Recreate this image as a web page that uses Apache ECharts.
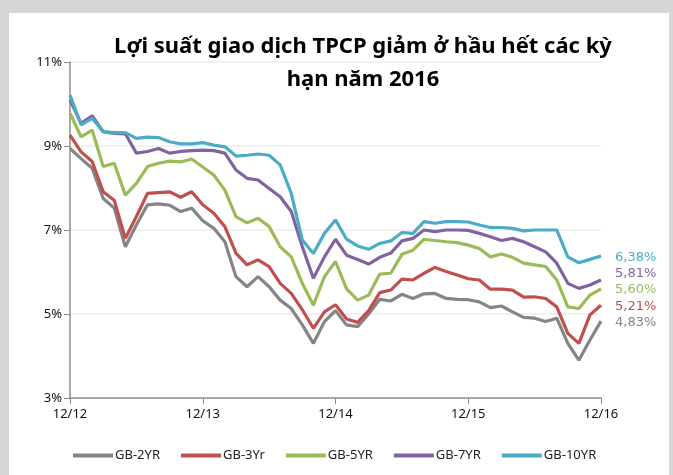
<!DOCTYPE html>
<html>
<head>
<meta charset="utf-8">
<script src="https://cdn.jsdelivr.net/npm/echarts@6/dist/echarts.min.js"></script>
<style>
  html, body { margin: 0; padding: 0; background: #d6d6d6; }
  #panel { position: absolute; left: 9px; top: 13px; width: 660px; height: 462px; background: #fff; }
  #chart { position: absolute; left: 0; top: 0; width: 673px; height: 475px; }
</style>
</head>
<body>
<div id="panel"></div>
<div id="chart"></div>
<script>
// thang 12/2012 .. 12/2016, moi thang mot diem
const months = [];
for (let y = 12; y <= 16; y++) {
  for (let m = (y === 12 ? 12 : 1); m <= 12; m++) {
    months.push(m + '/' + y);
  }
}
const yearLabels = { '12/12': '12/12', '12/13': '12/13', '12/14': '12/14', '12/15': '12/15', '12/16': '12/16' };

const gb2 = [8.94, 8.70, 8.47, 7.75, 7.52, 6.60, 7.12, 7.60, 7.62, 7.59, 7.44, 7.52, 7.22,
  7.04, 6.72, 5.89, 5.65, 5.89, 5.65, 5.33, 5.13, 4.74, 4.30, 4.82, 5.08,
  4.74, 4.70, 5.00, 5.35, 5.31, 5.47, 5.37, 5.48, 5.49, 5.37, 5.35, 5.34,
  5.29, 5.15, 5.19, 5.05, 4.92, 4.90, 4.82, 4.90, 4.30, 3.90, 4.38, 4.83];
const gb3 = [9.26, 8.86, 8.63, 7.91, 7.71, 6.80, 7.32, 7.87, 7.89, 7.91, 7.78, 7.91, 7.60,
  7.40, 7.08, 6.45, 6.17, 6.29, 6.13, 5.73, 5.49, 5.10, 4.66, 5.05, 5.22,
  4.88, 4.80, 5.08, 5.51, 5.57, 5.83, 5.81, 5.97, 6.11, 6.01, 5.93, 5.84,
  5.81, 5.59, 5.59, 5.57, 5.40, 5.41, 5.37, 5.17, 4.54, 4.30, 4.98, 5.21];
const gb5 = [9.78, 9.22, 9.38, 8.51, 8.59, 7.83, 8.11, 8.51, 8.59, 8.64, 8.62, 8.69, 8.50,
  8.31, 7.95, 7.32, 7.17, 7.28, 7.08, 6.60, 6.36, 5.73, 5.21, 5.89, 6.25,
  5.60, 5.33, 5.45, 5.95, 5.97, 6.42, 6.52, 6.78, 6.75, 6.72, 6.70, 6.64,
  6.56, 6.36, 6.43, 6.35, 6.21, 6.17, 6.13, 5.81, 5.17, 5.13, 5.45, 5.60];
const gb7 = [10.10, 9.54, 9.72, 9.34, 9.30, 9.29, 8.83, 8.87, 8.94, 8.83, 8.87, 8.89, 8.90,
  8.89, 8.83, 8.43, 8.23, 8.19, 7.99, 7.79, 7.44, 6.60, 5.85, 6.36, 6.78,
  6.40, 6.30, 6.19, 6.35, 6.45, 6.74, 6.80, 7.00, 6.96, 7.00, 7.00, 6.99,
  6.92, 6.84, 6.75, 6.80, 6.72, 6.60, 6.48, 6.21, 5.73, 5.61, 5.69, 5.81];
const gb10 = [10.21, 9.50, 9.66, 9.34, 9.32, 9.32, 9.18, 9.21, 9.20, 9.10, 9.05, 9.05, 9.08,
  9.02, 8.98, 8.76, 8.78, 8.81, 8.78, 8.55, 7.87, 6.76, 6.44, 6.92, 7.24,
  6.78, 6.62, 6.54, 6.68, 6.74, 6.94, 6.92, 7.20, 7.16, 7.20, 7.20, 7.19,
  7.12, 7.06, 7.06, 7.04, 6.98, 7.00, 7.00, 7.00, 6.36, 6.22, 6.30, 6.38];
const lastLabels = ['4,83%', '5,21%', '5,60%', '5,81%', '6,38%'];

const names = ['GB-2YR', 'GB-3Yr', 'GB-5YR', 'GB-7YR', 'GB-10YR'];
const colors = ['#858585', '#c0504d', '#9bbb59', '#8064a2', '#4bacc6'];
const allData = [gb2, gb3, gb5, gb7, gb10];
const labelOffsets = [[6, 1], [6, 1], [6, 1], [6, -6], [6, 2]];

const chart = echarts.init(document.getElementById('chart'));

const series = allData.map((d, i) => ({
  name: names[i],
  type: 'line',
  data: d,
  symbol: 'none',
  lineStyle: { width: 3.2, color: colors[i] },
  itemStyle: { color: colors[i] },
  endLabel: {
    show: true,
    formatter: () => lastLabels[i],
    color: colors[i],
    fontSize: 13,
    fontFamily: 'DejaVu Sans',
    offset: labelOffsets[i],
  },
}));

chart.setOption({
  animation: false,
  title: {
    text: 'Lợi suất giao dịch TPCP giảm ở hầu hết các kỳ\nhạn năm 2016',
    left: 358,
    textAlign: 'center',
    top: 25,
    textStyle: {
      fontFamily: 'Noto Sans',
      fontWeight: 'bold',
      fontSize: 22,
      lineHeight: 33,
      color: '#000',
    },
  },
  grid: { left: 70, right: 72, top: 62, bottom: 77 },
  legend: {
    bottom: 8,
    left: 68,
    icon: 'rect',
    itemWidth: 40,
    itemHeight: 4,
    itemGap: 21,
    textStyle: { fontFamily: 'Noto Sans', fontSize: 13, color: '#222', padding: [0, 0, 0, -3] },
    data: names,
  },
  xAxis: {
    type: 'category',
    data: months,
    boundaryGap: false,
    axisLine: { lineStyle: { color: '#8c8c8c', width: 1.5 } },
    axisTick: { show: true, interval: 11, length: 6, lineStyle: { color: '#8c8c8c' } },
    axisLabel: {
      interval: 11,
      margin: 10,
      fontFamily: 'Noto Sans',
      fontSize: 13,
      color: '#111',
      formatter: v => yearLabels[v] || '',
    },
    splitLine: { show: false },
  },
  yAxis: {
    type: 'value',
    min: 3,
    max: 11,
    interval: 2,
    axisLine: { show: true, lineStyle: { color: '#8c8c8c', width: 1.5 } },
    axisTick: { show: true, length: 6, lineStyle: { color: '#8c8c8c' } },
    axisLabel: {
      fontFamily: 'Noto Sans',
      fontSize: 13,
      color: '#111',
      margin: 8,
      formatter: v => v + '%',
    },
    splitLine: { show: true, lineStyle: { color: '#ececec', width: 1.5 } },
  },
  series: series,
});
</script>
</body>
</html>
